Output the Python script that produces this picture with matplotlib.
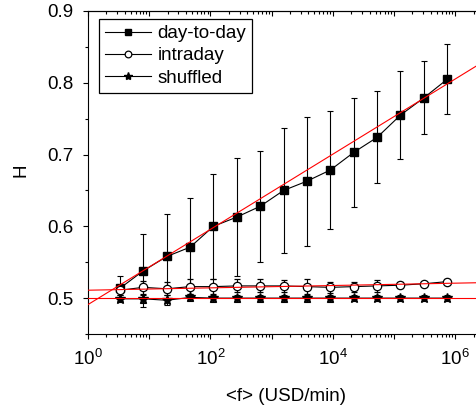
import matplotlib
matplotlib.use("Agg")
import matplotlib.pyplot as plt
from matplotlib.ticker import LogLocator, FuncFormatter, MultipleLocator, NullFormatter
from matplotlib.lines import Line2D
import numpy as np

plt.rcParams['font.family'] = ['Liberation Sans', 'DejaVu Sans']
plt.rcParams['mathtext.fontset'] = 'custom'
plt.rcParams['mathtext.rm'] = 'Liberation Sans'
plt.rcParams['mathtext.it'] = 'Liberation Sans:italic'

# data
flow = [3.3, 8.0, 19.4, 46.7, 112, 272, 653, 1570, 3800, 9140,
        21980, 53100, 127700, 307600, 743000]
day_to_day = [0.5135, 0.538, 0.558, 0.571, 0.600, 0.613, 0.628, 0.650, 0.663,
              0.6785, 0.703, 0.724, 0.755, 0.779, 0.805]
day_to_day_err = [0.017, 0.051, 0.059, 0.068, 0.073, 0.082, 0.0775, 0.0875,
                  0.090, 0.0825, 0.076, 0.064, 0.061, 0.051, 0.049]
intraday = [0.511, 0.515, 0.513, 0.516, 0.516, 0.517, 0.517, 0.517, 0.516,
            0.515, 0.516, 0.517, 0.518, 0.520, 0.523]
intraday_err = [0.006, 0.009, 0.009, 0.010, 0.010, 0.009, 0.009, 0.008, 0.010,
                0.008, 0.007, 0.008, 0.004, 0.003, 0.003]
shuffled = [0.499, 0.499, 0.497, 0.501, 0.500, 0.500, 0.500, 0.500, 0.500,
            0.500, 0.500, 0.500, 0.500, 0.500, 0.500]
shuffled_err = [0.005, 0.006, 0.007, 0.005, 0.005, 0.005, 0.005, 0.005, 0.005,
                0.005, 0.004, 0.004, 0.004, 0.004, 0.004]
series_labels = ['day-to-day', 'intraday', 'shuffled']

# fitted lines (endpoints)
fit_x = [1.0, 2.6e6]
fit_day_to_day = [0.491, 0.827]
fit_intraday = [0.511, 0.5215]
fit_shuffled = [0.500, 0.500]

W, H = 476, 409
fig = plt.figure(figsize=(W / 100, H / 100), dpi=100)
left, right, top, bottom = 88, 480, 11, 334
ax = fig.add_axes([left / W, (H - bottom) / H, (right - left) / W, (bottom - top) / H])

ekw = dict(color='black', ecolor='black', elinewidth=0.8, capsize=2.5,
           capthick=0.8, linewidth=0.8)
styles = [
    dict(marker='s', markersize=5.5, markerfacecolor='black', markeredgecolor='black'),
    dict(marker='o', markersize=6, markerfacecolor='white', markeredgecolor='black',
         markeredgewidth=0.9),
    dict(marker='*', markersize=7.5, markerfacecolor='black', markeredgecolor='black'),
]
ax.errorbar(flow, day_to_day, yerr=day_to_day_err, zorder=3, **styles[0], **ekw)
ax.errorbar(flow, intraday, yerr=intraday_err, zorder=4, **styles[1], **ekw)
ax.errorbar(flow, shuffled, yerr=shuffled_err, zorder=5, **styles[2], **ekw)

for fy in (fit_day_to_day, fit_intraday, fit_shuffled):
    ax.plot(fit_x, fy, color='red', linewidth=0.8, zorder=6)

ax.set_xscale('log')
ax.set_xlim(1, 10 ** ((right - left) / 61.2))
ax.set_ylim(0.45, 0.9)

ax.xaxis.set_major_locator(LogLocator(base=10, numticks=20))
ax.xaxis.set_minor_locator(LogLocator(base=10, subs=np.arange(2, 10), numticks=20))


def fmt(v, pos):
    e = int(round(np.log10(v)))
    if e % 2 == 0:
        return r'$\mathdefault{10^{%d}}$' % e
    return ''


ax.xaxis.set_major_formatter(FuncFormatter(fmt))
ax.xaxis.set_minor_formatter(NullFormatter())
ax.yaxis.set_major_locator(MultipleLocator(0.1))
ax.yaxis.set_minor_locator(MultipleLocator(0.05))
ax.yaxis.set_major_formatter(FuncFormatter(lambda v, p: '%.1f' % v))

ax.tick_params(which='both', direction='out', labelsize=13.5, pad=7,
               top=False, right=False, color='black', width=0.8)
ax.tick_params(which='major', length=3.5)
ax.tick_params(which='minor', length=2)
ax.spines['right'].set_visible(False)
for s in ('left', 'bottom', 'top'):
    ax.spines[s].set_linewidth(0.8)

sec = ax.secondary_xaxis('top')
sec.tick_params(which='both', direction='in', labeltop=False, width=0.8)
sec.tick_params(which='major', length=3.5)
sec.tick_params(which='minor', length=2)
sec.xaxis.set_major_locator(LogLocator(base=10, numticks=20))
sec.xaxis.set_minor_locator(LogLocator(base=10, subs=np.arange(2, 10), numticks=20))
sec.xaxis.set_major_formatter(NullFormatter())
sec.xaxis.set_minor_formatter(NullFormatter())
sec.spines['top'].set_linewidth(0.8)

ax.set_xlabel('<f> (USD/min)', fontsize=13.5)
ax.set_ylabel('H', fontsize=13.5)
axw = right - left
axh = bottom - top
ax.xaxis.set_label_coords((286 - left) / axw, -(388 - bottom) / axh)
ax.xaxis.label.set_va('top')
ax.yaxis.set_label_coords(-(left - 21) / axw, (bottom - 170) / axh)
ax.yaxis.label.set_va('center')

handles = [Line2D([], [], color='black', linewidth=0.8, **st) for st in styles]
leg = ax.legend(handles, series_labels, loc='upper left',
                bbox_to_anchor=(99 / W, 1 - 19 / H),
                bbox_transform=fig.transFigure, borderaxespad=0,
                fontsize=13.5, numpoints=1, handlelength=2.45, markerscale=0.8,
                handletextpad=0.35, labelspacing=0.28, borderpad=0.32,
                fancybox=False, framealpha=1, edgecolor='black')
leg.get_frame().set_linewidth(0.9)

fig.savefig('out.png', dpi=100)
